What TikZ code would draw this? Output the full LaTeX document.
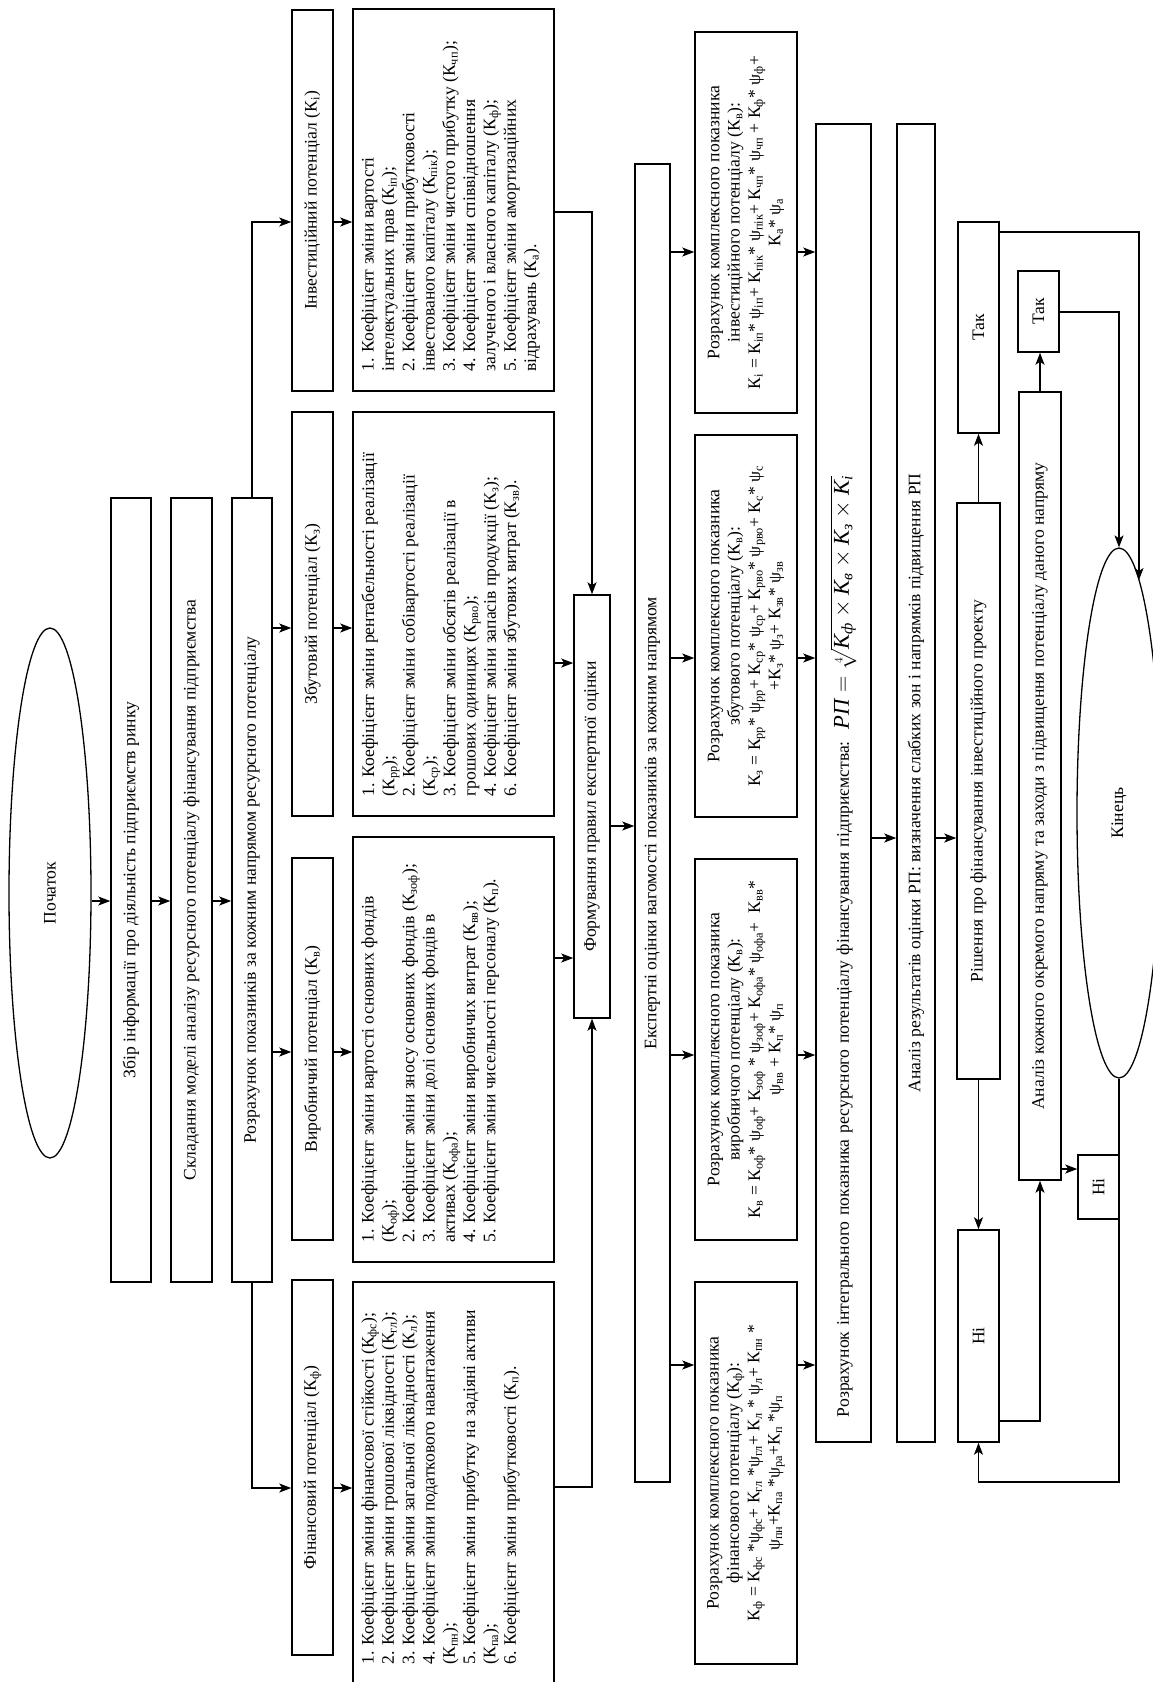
\documentclass[tikz,border=0pt]{standalone}
\usepackage{fix-cm}
\usepackage{amsmath}
\usepackage{fontspec}
\setmainfont{Liberation Serif}
\usetikzlibrary{arrows.meta, calc, shapes.geometric}

\newcommand{\kc}[1]{К\textsubscript{#1}}
\newcommand{\wt}[1]{ψ\textsubscript{#1}}

\begin{document}
\begin{tikzpicture}[x=1pt, y=-1pt,
    every node/.style={font=\fontsize{17.6}{20.3}\selectfont, rotate=90, inner sep=0pt},
    blk/.style={draw, line width=1.5pt, align=center},
    oval/.style={draw, ellipse, line width=1.3pt},
    lst/.style={align=left, anchor=north west, inner xsep=20pt, inner ysep=9pt},
    arr/.style={line width=1.1pt, -{Stealth[length=12pt, width=9pt, inset=3pt]}}]
    \useasboundingbox (0,0) rectangle (1152,1682);

    % rows of the connectors
    \coordinate (rowS) at (0,901);
    \coordinate (rowIa) at (0,222);  \coordinate (rowZa) at (0,628);
    \coordinate (rowVa) at (0,1052); \coordinate (rowFa) at (0,1488);
    \coordinate (rowIb) at (0,212);  \coordinate (rowZb) at (0,663);
    \coordinate (rowVb) at (0,958);  \coordinate (rowFb) at (0,1487);
    \coordinate (rowIc) at (0,252);  \coordinate (rowZc) at (0,658);
    \coordinate (rowVc) at (0,1055); \coordinate (rowFc) at (0,1365);
    \coordinate (rowM) at (0,826);   \coordinate (rowR) at (0,838);
    \coordinate (rowY1) at (0,232);  \coordinate (rowY2) at (0,312);
    \coordinate (rowN2) at (0,1169); \coordinate (rowN1) at (0,1421);
    \coordinate (rowL) at (0,1482);

    % first steps
    \node[oval, minimum width=530pt, minimum height=82pt] (start) at (50,893) {Початок};
    \node[blk, minimum width=784pt, minimum height=40pt] (info) at (131,890)
        {Збір інформації про діяльність підприємств ринку};
    \node[blk, minimum width=784pt, minimum height=41pt] (model) at (191.5,890)
        {Складання моделі аналізу ресурсного потенціалу фінансування підприємства};
    \node[blk, minimum width=784pt, minimum height=40pt] (calc) at (252,890)
        {Розрахунок показників за кожним напрямом ресурсного потенціалу};

    % potentials
    \node[blk, minimum width=381pt, minimum height=41pt] (potI) at (312.5,200.5) {Інвестиційний потенціал (\kc{і})};
    \node[blk, minimum width=404pt, minimum height=41pt] (potZ) at (312.5,614) {Збутовий потенціал (\kc{з})};
    \node[blk, minimum width=382pt, minimum height=41pt] (potV) at (312.5,1049) {Виробничий потенціал (\kc{в})};
    \node[blk, minimum width=375pt, minimum height=41pt] (potF) at (312.5,1467.5) {Фінансовий потенціал (\kc{ф})};

    % lists of coefficients
    \node[blk, minimum width=382pt, minimum height=201pt] (lstI) at (453.5,200) {};
    \node[blk, minimum width=404pt, minimum height=201pt] (lstZ) at (453.5,614) {};
    \node[blk, minimum width=425pt, minimum height=201pt] (lstV) at (453.5,1049.5) {};
    \node[blk, minimum width=402pt, minimum height=201pt] (lstF) at (453.5,1483) {};
    \node[lst] (txtI) at (lstI.north west) {1. Коефіцієнт зміни вартості\\
        інтелектуальних прав (\kc{іп});\\
        2. Коефіцієнт зміни прибутковості\\
        інвестованого капіталу (\kc{пік});\\
        3. Коефіцієнт зміни чистого прибутку (\kc{чп});\\
        4. Коефіцієнт зміни співвідношення\\
        залученого і власного капіталу (\kc{ф});\\
        5. Коефіцієнт зміни амортизаційних\\
        відрахувань (\kc{а}).};
    \node[lst] (txtZ) at (lstZ.north west) {1. Коефіцієнт зміни рентабельності реалізації\\
        (\kc{рр});\\
        2. Коефіцієнт зміни собівартості реалізації\\
        (\kc{ср});\\
        3. Коефіцієнт зміни обсягів реалізації в\\
        грошових одиницях (\kc{рво});\\
        4. Коефіцієнт зміни запасів продукції (\kc{з});\\
        6. Коефіцієнт зміни збутових витрат (\kc{зв}).};
    \node[lst] (txtV) at (lstV.north west) {1. Коефіцієнт зміни вартості основних фондів\\
        (\kc{оф});\\
        2. Коефіцієнт зміни зносу основних фондів (\kc{зоф});\\
        3. Коефіцієнт зміни долі основних фондів в\\
        активах (\kc{офа});\\
        4. Коефіцієнт зміни виробничих витрат (\kc{вв});\\
        5. Коефіцієнт зміни чисельності персоналу (\kc{п}).};
    \node[lst] (txtF) at (lstF.north west) {1. Коефіцієнт зміни фінансової стійкості (\kc{фс});\\
        2. Коефіцієнт зміни грошової ліквідності (\kc{гл});\\
        3. Коефіцієнт зміни загальної ліквідності (\kc{л});\\
        4. Коефіцієнт зміни податкового навантаження\\
        (\kc{пн});\\
        5. Коефіцієнт зміни прибутку на задіяні активи\\
        (\kc{па});\\
        6. Коефіцієнт зміни прибутковості (\kc{п}).};

    % expert evaluation
    \node[blk, minimum width=423pt, minimum height=36pt] (form) at (592,806.5) {Формування правил експертної оцінки};
    \node[blk, minimum width=1318pt, minimum height=35pt] (exp) at (652.5,823)
        {Експертні оцінки вагомості показників за кожним напрямом};

    % complex indicators
    \node[blk, minimum width=381pt, minimum height=102pt] (cmpI) at (746,222.5)
        {Розрахунок комплексного показника\\ інвестиційного потенціалу (\kc{в}):\\
        \kc{і} = \kc{іп}* \wt{іп}+ \kc{пік}* \wt{пік}+ \kc{чп}* \wt{чп} + \kc{ф}* \wt{ф}+\\ \kc{а}* \wt{а}};
    \node[blk, minimum width=382pt, minimum height=102pt] (cmpZ) at (746,626)
        {Розрахунок комплексного показника\\ збутового потенціалу (\kc{в}):\\
        \kc{з} = \kc{рр}* \wt{рр}+ \kc{ср}* \wt{ср}+ \kc{рво}* \wt{рво}+ \kc{с}* \wt{с}\\ +\kc{з}* \wt{з}+ \kc{зв}* \wt{зв}};
    \node[blk, minimum width=381pt, minimum height=102pt] (cmpV) at (746,1049.5)
        {Розрахунок комплексного показника\\ виробничого потенціалу (\kc{в}):\\
        \kc{в} = \kc{оф}* \wt{оф}+ \kc{зоф} * \wt{зоф}+ \kc{офа}* \wt{офа}+~ \kc{вв}*\\ \wt{вв} + \kc{п}* \wt{п}};
    \node[blk, minimum width=382pt, minimum height=102pt] (cmpF) at (746,1473)
        {Розрахунок комплексного показника\\ фінансового потенціалу (\kc{ф}):\\
        \kc{ф} = \kc{фс} *\wt{фс}+ \kc{гл} *\wt{гл}+ \kc{л} * \wt{л}+ \kc{пн} *\\ \wt{пн}+\kc{па} *\wt{ра}+\kc{п} *\wt{п}};

    % integral indicator and analysis
    \node[blk, minimum width=1318pt, minimum height=55pt, text width=1268pt, align=left] (integ) at (843.5,783)
        {Розрахунок інтегрального показника ресурсного потенціалу фінансування підприємства:~~{\fontsize{22.6}{26}\selectfont
        \textit{РП} $=\sqrt[4]{\textit{K}_{\textit{ф}}\times\textit{K}_{\textit{в}}\times\textit{K}_{\textit{з}}\times\textit{K}_{\textit{i}}}$}};
    \node[blk, minimum width=1318pt, minimum height=38pt] (anal) at (916,783)
        {Аналіз результатів оцінки РП: визначення слабких зон і напрямків підвищення РП};
    \node[blk, minimum width=576pt, minimum height=43pt] (dec) at (978.5,791)
        {Рішення про фінансування інвестиційного проекту};
    \node[blk, minimum width=211pt, minimum height=41pt] (yes1) at (978.5,327.5) {Так};
    \node[blk, minimum width=212pt, minimum height=41pt] (no1) at (978.5,1336) {Ні};
    \node[blk, minimum width=788pt, minimum height=42pt] (each) at (1040,786)
        {Аналіз кожного окремого напряму та заходи з підвищення потенціалу даного напряму};
    \node[blk, minimum width=81pt, minimum height=41pt] (yes2) at (1038.5,311.5) {Так};
    \node[blk, minimum width=64pt, minimum height=41pt] (no2) at (1098.5,1187) {Ні};
    \node[oval, minimum width=530pt, minimum height=84pt] (fin) at (1119,813) {Кінець};

    % connectors
    \draw[arr] (start.south |- rowS) -- (info.north |- rowS);
    \draw[arr] (info.south |- rowS) -- (model.north |- rowS);
    \draw[arr] (model.south |- rowS) -- (calc.north |- rowS);
    \draw[arr] (calc.east) |- (potI.north |- rowIa);
    \draw[arr] (calc.south |- rowZa) -- (potZ.north |- rowZa);
    \draw[arr] (calc.south |- rowVa) -- (potV.north |- rowVa);
    \draw[arr] (calc.west) |- (potF.north |- rowFa);
    \draw[arr] (potI.south |- rowIa) -- (lstI.north |- rowIa);
    \draw[arr] (potZ.south |- rowZa) -- (lstZ.north |- rowZa);
    \draw[arr] (potV.south |- rowVa) -- (lstV.north |- rowVa);
    \draw[arr] (potF.south |- rowFa) -- (lstF.north |- rowFa);
    \draw[arr] (lstI.south |- rowIb) -| (form.east);
    \draw[arr] (lstZ.south |- rowZb) -- (form.north |- rowZb);
    \draw[arr] (lstV.south |- rowVb) -- (form.north |- rowVb);
    \draw[arr] (lstF.south |- rowFb) -| (form.west);
    \draw[arr] (form.south |- rowM) -- (exp.north |- rowM);
    \foreach \c/\r in {cmpI/rowIc, cmpZ/rowZc, cmpV/rowVc, cmpF/rowFc} {
        \draw[arr] (exp.south |- \r) -- (\c.north |- \r);
        \draw[arr] (\c.south |- \r) -- (integ.north |- \r);
    }
    \draw[arr] (integ.south |- rowR) -- (anal.north |- rowR);
    \draw[arr] (anal.south |- rowR) -- (dec.north |- rowR);
    \draw[arr] (dec.east) -- (yes1.west);
    \draw[arr] (dec.west) -- (no1.east);
    \draw[arr] (yes1.south |- rowY1) -| ($(fin.center)+(20,-233)$);
    \draw[arr] (yes2.south |- rowY2) -| (fin.east);
    \draw[arr] (each.east) -- (each.east |- yes2.west);
    \draw[arr] (each.south |- rowN2) -- (no2.north |- rowN2);
    \draw[arr] (no1.south |- rowN1) -| (each.west);
    \draw[arr] (fin.west) |- (no1.west |- rowL) -- (no1.west);
\end{tikzpicture}
\end{document}
